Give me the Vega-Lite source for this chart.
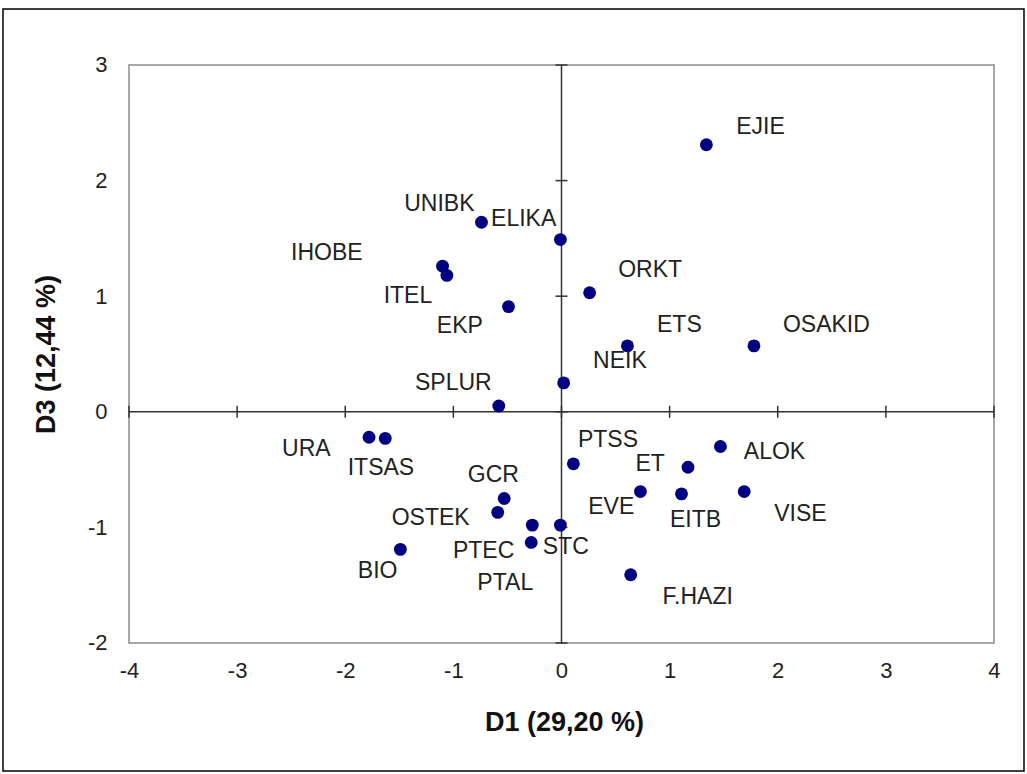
{
  "$schema": "https://vega.github.io/schema/vega-lite/v6.json",
  "autosize": "none",
  "width": 1021,
  "height": 762,
  "padding": {"left": 3, "top": 9, "right": 3, "bottom": 3},
  "background": "white",
  "config": {
    "font": "Liberation Sans",
    "view": {"stroke": "#000", "strokeWidth": 1.5},
    "axis": {"grid": false, "ticks": false, "tickSize": 0, "domain": false, "labelFlush": false, "labelFont": "Liberation Sans", "labelFontSize": 22, "labelColor": "#222", "titleFont": "Liberation Sans", "titleFontSize": 27, "titleFontWeight": "bold", "titleColor": "#111", "labelExpr": "datum.value + ''"}
  },
  "datasets": {
    "pts": [
      {"name": "EJIE", "d1": 1.34, "d3": 2.31, "lx": 1.84, "ly": 2.46},
      {"name": "UNIBK", "d1": -0.74, "d3": 1.64, "lx": -1.13, "ly": 1.80},
      {"name": "ELIKA", "d1": -0.01, "d3": 1.49, "lx": -0.35, "ly": 1.67},
      {"name": "IHOBE", "d1": -1.10, "d3": 1.26, "lx": -2.17, "ly": 1.37},
      {"name": "ITEL", "d1": -1.06, "d3": 1.18, "lx": -1.42, "ly": 1.00},
      {"name": "EKP", "d1": -0.49, "d3": 0.91, "lx": -0.94, "ly": 0.74},
      {"name": "SPLUR", "d1": -0.58, "d3": 0.05, "lx": -1.00, "ly": 0.25},
      {"name": "NEIK", "d1": 0.02, "d3": 0.25, "lx": 0.54, "ly": 0.44},
      {"name": "ORKT", "d1": 0.26, "d3": 1.03, "lx": 0.82, "ly": 1.23},
      {"name": "ETS", "d1": 0.61, "d3": 0.57, "lx": 1.09, "ly": 0.75},
      {"name": "OSAKID", "d1": 1.78, "d3": 0.57, "lx": 2.45, "ly": 0.75},
      {"name": "URA", "d1": -1.78, "d3": -0.22, "lx": -2.36, "ly": -0.32},
      {"name": "ITSAS", "d1": -1.63, "d3": -0.23, "lx": -1.67, "ly": -0.49},
      {"name": "GCR", "d1": -0.53, "d3": -0.75, "lx": -0.63, "ly": -0.55},
      {"name": "OSTEK", "d1": -0.59, "d3": -0.87, "lx": -1.21, "ly": -0.92},
      {"name": "PTEC", "d1": -0.28, "d3": -1.13, "lx": -0.72, "ly": -1.20},
      {"name": "PTAL", "d1": -0.27, "d3": -0.98, "lx": -0.52, "ly": -1.48},
      {"name": "STC", "d1": -0.01, "d3": -0.98, "lx": 0.04, "ly": -1.17},
      {"name": "BIO", "d1": -1.49, "d3": -1.19, "lx": -1.70, "ly": -1.38},
      {"name": "PTSS", "d1": 0.11, "d3": -0.45, "lx": 0.43, "ly": -0.24},
      {"name": "ET", "d1": 1.17, "d3": -0.48, "lx": 0.82, "ly": -0.45},
      {"name": "ALOK", "d1": 1.47, "d3": -0.30, "lx": 1.97, "ly": -0.35},
      {"name": "EVE", "d1": 0.73, "d3": -0.69, "lx": 0.46, "ly": -0.82},
      {"name": "EITB", "d1": 1.11, "d3": -0.71, "lx": 1.24, "ly": -0.94},
      {"name": "VISE", "d1": 1.69, "d3": -0.69, "lx": 2.21, "ly": -0.88},
      {"name": "F.HAZI", "d1": 0.64, "d3": -1.41, "lx": 1.26, "ly": -1.60}
    ],
    "xticks": [{"v": -4}, {"v": -3}, {"v": -2}, {"v": -1}, {"v": 0}, {"v": 1}, {"v": 2}, {"v": 3}, {"v": 4}],
    "yticks": [{"v": -2}, {"v": -1}, {"v": 0}, {"v": 1}, {"v": 2}, {"v": 3}],
    "frame": [{"x0": -4, "x1": 4, "y0": -2, "y1": 3}]
  },
  "layer": [
    {
      "data": {"name": "frame"},
      "mark": {"type": "rect", "fill": null, "fillOpacity": 0, "stroke": "#8c8c8c", "strokeWidth": 1.5},
      "encoding": {
        "x": {"field": "x0", "type": "quantitative", "scale": {"domain": [-5.1653, 4.2775], "nice": false, "zero": false}, "axis": {"values": [-4, -3, -2, -1, 0, 1, 2, 3, 4], "title": "D1 (29,20 %)", "offset": -128, "labelPadding": 17, "titlePadding": 28, "titleX": 561}},
        "x2": {"field": "x1"},
        "y": {"field": "y0", "type": "quantitative", "scale": {"domain": [-3.1073, 3.4844], "nice": false, "zero": false}, "axis": {"values": [-2, -1, 0, 1, 2, 3], "title": "D3 (12,44 %)", "offset": -126, "labelPadding": 22, "titlePadding": 27, "titleY": 345}},
        "y2": {"field": "y1"}
      }
    },
    {
      "data": {"name": "frame"},
      "mark": {"type": "rule", "color": "#333", "strokeWidth": 1.5},
      "encoding": {"x": {"datum": 0, "type": "quantitative"}, "y": {"field": "y0", "type": "quantitative"}, "y2": {"field": "y1"}}
    },
    {
      "data": {"name": "frame"},
      "mark": {"type": "rule", "color": "#333", "strokeWidth": 1.5},
      "encoding": {"y": {"datum": 0, "type": "quantitative"}, "x": {"field": "x0", "type": "quantitative"}, "x2": {"field": "x1"}}
    },
    {
      "data": {"name": "xticks"},
      "mark": {"type": "point", "shape": "M0,-1L0,1", "size": 144, "stroke": "#333", "strokeWidth": 1.5, "filled": false, "opacity": 1},
      "encoding": {"x": {"field": "v", "type": "quantitative"}, "y": {"datum": 0, "type": "quantitative"}}
    },
    {
      "data": {"name": "yticks"},
      "mark": {"type": "point", "shape": "M-1,0L1,0", "size": 144, "stroke": "#333", "strokeWidth": 1.5, "filled": false, "opacity": 1},
      "encoding": {"y": {"field": "v", "type": "quantitative"}, "x": {"datum": 0, "type": "quantitative"}}
    },
    {
      "data": {"name": "pts"},
      "mark": {"type": "point", "shape": "circle", "filled": true, "size": 165, "color": "#000080", "opacity": 1},
      "encoding": {"x": {"field": "d1", "type": "quantitative"}, "y": {"field": "d3", "type": "quantitative"}}
    },
    {
      "data": {"name": "pts"},
      "mark": {"type": "text", "font": "Liberation Sans", "fontSize": 23, "color": "#222", "align": "center", "baseline": "middle"},
      "encoding": {"x": {"field": "lx", "type": "quantitative"}, "y": {"field": "ly", "type": "quantitative"}, "text": {"field": "name"}}
    }
  ]
}
